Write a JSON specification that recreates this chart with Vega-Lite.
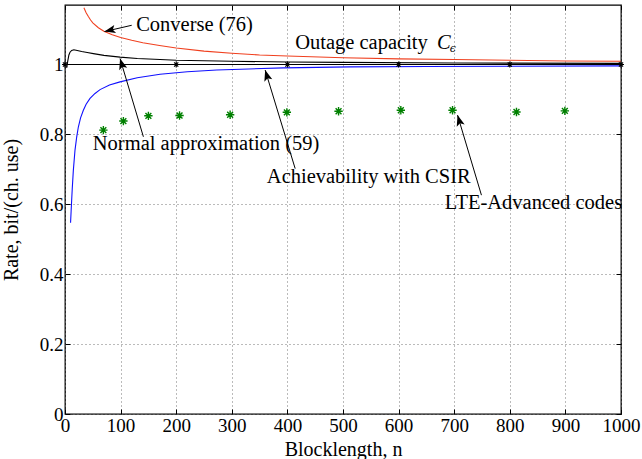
{
  "$schema": "https://vega.github.io/schema/vega-lite/v6.json",
  "width": 556,
  "height": 409,
  "autosize": {"type": "none"},
  "padding": {"left": 65, "top": 5, "right": 21, "bottom": 45},
  "background": "white",
  "config": {
    "view": {"stroke": "black", "strokeWidth": 1.3},
    "font": "Liberation Serif, Times New Roman, serif",
    "axis": {
      "labelFont": "Liberation Serif, Times New Roman, serif",
      "labelFontSize": 19,
      "labelColor": "black",
      "titleFont": "Liberation Serif, Times New Roman, serif",
      "titleFontSize": 20,
      "titleFontWeight": "normal",
      "titleColor": "black",
      "tickColor": "black",
      "tickWidth": 1,
      "tickSize": -5,
      "labelPadding": 7,
      "domain": false,
      "labelFlush": false,
      "labelOverlap": false,
      "labelBound": false,
      "gridColor": "#777777",
      "gridDash": [1, 3],
      "gridWidth": 1,
      "gridOpacity": 1
    }
  },
  "datasets": {
    "curves": [
      {"series": "Converse", "n": 34, "rate": 1.162},
      {"series": "Converse", "n": 38, "rate": 1.148},
      {"series": "Converse", "n": 42, "rate": 1.137},
      {"series": "Converse", "n": 46, "rate": 1.127},
      {"series": "Converse", "n": 50, "rate": 1.119},
      {"series": "Converse", "n": 60, "rate": 1.105},
      {"series": "Converse", "n": 70, "rate": 1.095},
      {"series": "Converse", "n": 85, "rate": 1.085},
      {"series": "Converse", "n": 100, "rate": 1.077},
      {"series": "Converse", "n": 120, "rate": 1.069},
      {"series": "Converse", "n": 140, "rate": 1.062},
      {"series": "Converse", "n": 170, "rate": 1.054},
      {"series": "Converse", "n": 200, "rate": 1.047},
      {"series": "Converse", "n": 250, "rate": 1.038},
      {"series": "Converse", "n": 300, "rate": 1.032},
      {"series": "Converse", "n": 350, "rate": 1.027},
      {"series": "Converse", "n": 400, "rate": 1.024},
      {"series": "Converse", "n": 500, "rate": 1.019},
      {"series": "Converse", "n": 600, "rate": 1.016},
      {"series": "Converse", "n": 700, "rate": 1.014},
      {"series": "Converse", "n": 800, "rate": 1.012},
      {"series": "Converse", "n": 900, "rate": 1.010},
      {"series": "Converse", "n": 1000, "rate": 1.009},
      {"series": "Normal", "n": 3, "rate": 0.99},
      {"series": "Normal", "n": 5, "rate": 1.01},
      {"series": "Normal", "n": 7, "rate": 1.027},
      {"series": "Normal", "n": 9, "rate": 1.035},
      {"series": "Normal", "n": 12, "rate": 1.040},
      {"series": "Normal", "n": 16, "rate": 1.042},
      {"series": "Normal", "n": 22, "rate": 1.040},
      {"series": "Normal", "n": 30, "rate": 1.037},
      {"series": "Normal", "n": 40, "rate": 1.034},
      {"series": "Normal", "n": 51, "rate": 1.031},
      {"series": "Normal", "n": 70, "rate": 1.026},
      {"series": "Normal", "n": 99, "rate": 1.021},
      {"series": "Normal", "n": 130, "rate": 1.017},
      {"series": "Normal", "n": 171, "rate": 1.014},
      {"series": "Normal", "n": 200, "rate": 1.012},
      {"series": "Normal", "n": 300, "rate": 1.009},
      {"series": "Normal", "n": 400, "rate": 1.007},
      {"series": "Normal", "n": 500, "rate": 1.006},
      {"series": "Normal", "n": 700, "rate": 1.004},
      {"series": "Normal", "n": 1000, "rate": 1.003},
      {"series": "Achievability", "n": 10, "rate": 0.547},
      {"series": "Achievability", "n": 11, "rate": 0.58},
      {"series": "Achievability", "n": 12, "rate": 0.612},
      {"series": "Achievability", "n": 13, "rate": 0.643},
      {"series": "Achievability", "n": 15, "rate": 0.697},
      {"series": "Achievability", "n": 18, "rate": 0.755},
      {"series": "Achievability", "n": 21, "rate": 0.792},
      {"series": "Achievability", "n": 24, "rate": 0.821},
      {"series": "Achievability", "n": 28, "rate": 0.847},
      {"series": "Achievability", "n": 33, "rate": 0.869},
      {"series": "Achievability", "n": 38, "rate": 0.886},
      {"series": "Achievability", "n": 45, "rate": 0.903},
      {"series": "Achievability", "n": 54, "rate": 0.917},
      {"series": "Achievability", "n": 63, "rate": 0.928},
      {"series": "Achievability", "n": 80, "rate": 0.941},
      {"series": "Achievability", "n": 99, "rate": 0.950},
      {"series": "Achievability", "n": 130, "rate": 0.962},
      {"series": "Achievability", "n": 171, "rate": 0.972},
      {"series": "Achievability", "n": 220, "rate": 0.979},
      {"series": "Achievability", "n": 273, "rate": 0.984},
      {"series": "Achievability", "n": 330, "rate": 0.987},
      {"series": "Achievability", "n": 393, "rate": 0.990},
      {"series": "Achievability", "n": 513, "rate": 0.993},
      {"series": "Achievability", "n": 650, "rate": 0.994},
      {"series": "Achievability", "n": 800, "rate": 0.995},
      {"series": "Achievability", "n": 1000, "rate": 0.996},
      {"series": "Outage", "n": 0, "rate": 1},
      {"series": "Outage", "n": 1000, "rate": 1}
    ],
    "outageMarks": [
      {"n": 0, "rate": 1}, {"n": 200, "rate": 1}, {"n": 400, "rate": 1},
      {"n": 600, "rate": 1}, {"n": 800, "rate": 1}, {"n": 1000, "rate": 1}
    ],
    "lte": [
      {"n": 69, "rate": 0.812}, {"n": 105, "rate": 0.838}, {"n": 150, "rate": 0.853},
      {"n": 206, "rate": 0.854}, {"n": 297, "rate": 0.856}, {"n": 399, "rate": 0.863},
      {"n": 492, "rate": 0.866}, {"n": 604, "rate": 0.869}, {"n": 697, "rate": 0.869},
      {"n": 812, "rate": 0.864}, {"n": 899, "rate": 0.867}
    ],
    "arrows": [
      {"label": "Converse", "n": 120, "rate": 1.112, "n2": 71, "rate2": 1.094},
      {"label": "Normal", "n": 141, "rate": 0.793, "n2": 99, "rate2": 1.017},
      {"label": "Achievability", "n": 414, "rate": 0.702, "n2": 360, "rate2": 0.984},
      {"label": "LTE", "n": 749, "rate": 0.626, "n2": 706, "rate2": 0.855}
    ],
    "labels": [
      {"text": "Converse (76)", "n": 128, "rate": 1.0955},
      {"text": "Outage capacity", "n": 414, "rate": 1.045},
      {"text": "Normal approximation (59)", "n": 50, "rate": 0.754},
      {"text": "Achievability with CSIR", "n": 363, "rate": 0.661},
      {"text": "LTE-Advanced codes", "n": 683, "rate": 0.5875}
    ],
    "italicLabels": [
      {"text": "C", "n": 669, "rate": 1.045}
    ],
    "subLabels": [
      {"text": "ϵ", "n": 692, "rate": 1.036}
    ]
  },
  "resolve": {"axis": {"x": "independent", "y": "independent"}},
  "layer": [
    {
      "data": {"name": "curves"},
      "mark": {"type": "line", "strokeWidth": 1.1, "clip": true},
      "encoding": {
        "x": {
          "field": "n", "type": "quantitative",
          "scale": {"domain": [0, 1000], "nice": false},
          "axis": {
            "orient": "bottom",
            "values": [0, 100, 200, 300, 400, 500, 600, 700, 800, 900, 1000],
            "format": "d",
            "grid": true,
            "title": "Blocklength, n",
            "titlePadding": 4
          }
        },
        "y": {
          "field": "rate", "type": "quantitative",
          "scale": {"domain": [0, 1.17], "nice": false, "zero": false},
          "axis": {
            "orient": "left",
            "values": [0, 0.2, 0.4, 0.6, 0.8, 1],
            "format": "~g",
            "grid": true,
            "title": "Rate, bit/(ch. use)",
            "titlePadding": 18
          }
        },
        "color": {
          "field": "series", "type": "nominal",
          "scale": {"domain": ["Converse", "Normal", "Achievability", "Outage"], "range": ["#f0401f", "#000000", "#1010ff", "#000000"]},
          "legend": null
        },
        "detail": {"field": "series"}
      }
    },
    {
      "data": {"name": "outageMarks"},
      "mark": {"type": "point", "shape": "M -1 0 L 1 0 M 0 -1 L 0 1 M -0.7 -0.7 L 0.7 0.7 M -0.7 0.7 L 0.7 -0.7", "filled": false, "stroke": "black", "strokeWidth": 1.1, "size": 36, "opacity": 1, "clip": false},
      "encoding": {
        "x": {
          "field": "n", "type": "quantitative",
          "scale": {"domain": [0, 1000], "nice": false},
          "axis": {"orient": "top", "values": [0, 100, 200, 300, 400, 500, 600, 700, 800, 900, 1000], "labels": false, "grid": false, "title": null}
        },
        "y": {
          "field": "rate", "type": "quantitative",
          "scale": {"domain": [0, 1.17], "nice": false, "zero": false},
          "axis": {"orient": "right", "values": [0, 0.2, 0.4, 0.6, 0.8, 1], "labels": false, "grid": false, "title": null}
        }
      }
    },
    {
      "data": {"name": "lte"},
      "mark": {"type": "point", "shape": "M -1 0 L 1 0 M 0 -1 L 0 1 M -0.7 -0.7 L 0.7 0.7 M -0.7 0.7 L 0.7 -0.7", "filled": false, "stroke": "#008000", "strokeWidth": 1.4, "size": 70, "opacity": 1},
      "encoding": {
        "x": {"field": "n", "type": "quantitative", "scale": {"domain": [0, 1000], "nice": false}, "axis": null},
        "y": {"field": "rate", "type": "quantitative", "scale": {"domain": [0, 1.17], "nice": false, "zero": false}, "axis": null}
      }
    },
    {
      "data": {"name": "arrows"},
      "mark": {"type": "rule", "stroke": "black", "strokeWidth": 1},
      "encoding": {
        "x": {"field": "n", "type": "quantitative", "scale": {"domain": [0, 1000], "nice": false}, "axis": null},
        "y": {"field": "rate", "type": "quantitative", "scale": {"domain": [0, 1.17], "nice": false, "zero": false}, "axis": null},
        "x2": {"field": "n2"},
        "y2": {"field": "rate2"}
      }
    },
    {
      "data": {"name": "arrows"},
      "transform": [{"filter": "datum.label === 'Converse'"}],
      "mark": {"type": "point", "shape": "M 0 0 L 0.75 2 L 0 1.55 L -0.75 2 Z", "filled": true, "fill": "black", "strokeWidth": 0, "size": 121, "opacity": 1, "angle": -103},
      "encoding": {
        "x": {"field": "n2", "type": "quantitative", "scale": {"domain": [0, 1000], "nice": false}, "axis": null},
        "y": {"field": "rate2", "type": "quantitative", "scale": {"domain": [0, 1.17], "nice": false, "zero": false}, "axis": null}
      }
    },
    {
      "data": {"name": "arrows"},
      "transform": [{"filter": "datum.label !== 'Converse'"}],
      "mark": {"type": "point", "shape": "M 0 0 L 0.75 2 L 0 1.55 L -0.75 2 Z", "filled": true, "fill": "black", "strokeWidth": 0, "size": 121, "opacity": 1, "angle": -16.7},
      "encoding": {
        "x": {"field": "n2", "type": "quantitative", "scale": {"domain": [0, 1000], "nice": false}, "axis": null},
        "y": {"field": "rate2", "type": "quantitative", "scale": {"domain": [0, 1.17], "nice": false, "zero": false}, "axis": null}
      }
    },
    {
      "data": {"name": "labels"},
      "mark": {"type": "text", "font": "Liberation Serif, Times New Roman, serif", "fontSize": 20.5, "align": "left", "baseline": "alphabetic", "color": "black"},
      "encoding": {
        "x": {"field": "n", "type": "quantitative", "scale": {"domain": [0, 1000], "nice": false}, "axis": null},
        "y": {"field": "rate", "type": "quantitative", "scale": {"domain": [0, 1.17], "nice": false, "zero": false}, "axis": null},
        "text": {"field": "text"}
      }
    },
    {
      "data": {"name": "italicLabels"},
      "mark": {"type": "text", "font": "Liberation Serif, Times New Roman, serif", "fontSize": 20.5, "fontStyle": "italic", "align": "left", "baseline": "alphabetic", "color": "black"},
      "encoding": {
        "x": {"field": "n", "type": "quantitative", "scale": {"domain": [0, 1000], "nice": false}, "axis": null},
        "y": {"field": "rate", "type": "quantitative", "scale": {"domain": [0, 1.17], "nice": false, "zero": false}, "axis": null},
        "text": {"field": "text"}
      }
    },
    {
      "data": {"name": "subLabels"},
      "mark": {"type": "text", "font": "DejaVu Serif, serif", "fontSize": 11, "fontStyle": "italic", "align": "left", "baseline": "alphabetic", "color": "black"},
      "encoding": {
        "x": {"field": "n", "type": "quantitative", "scale": {"domain": [0, 1000], "nice": false}, "axis": null},
        "y": {"field": "rate", "type": "quantitative", "scale": {"domain": [0, 1.17], "nice": false, "zero": false}, "axis": null},
        "text": {"field": "text"}
      }
    }
  ]
}
